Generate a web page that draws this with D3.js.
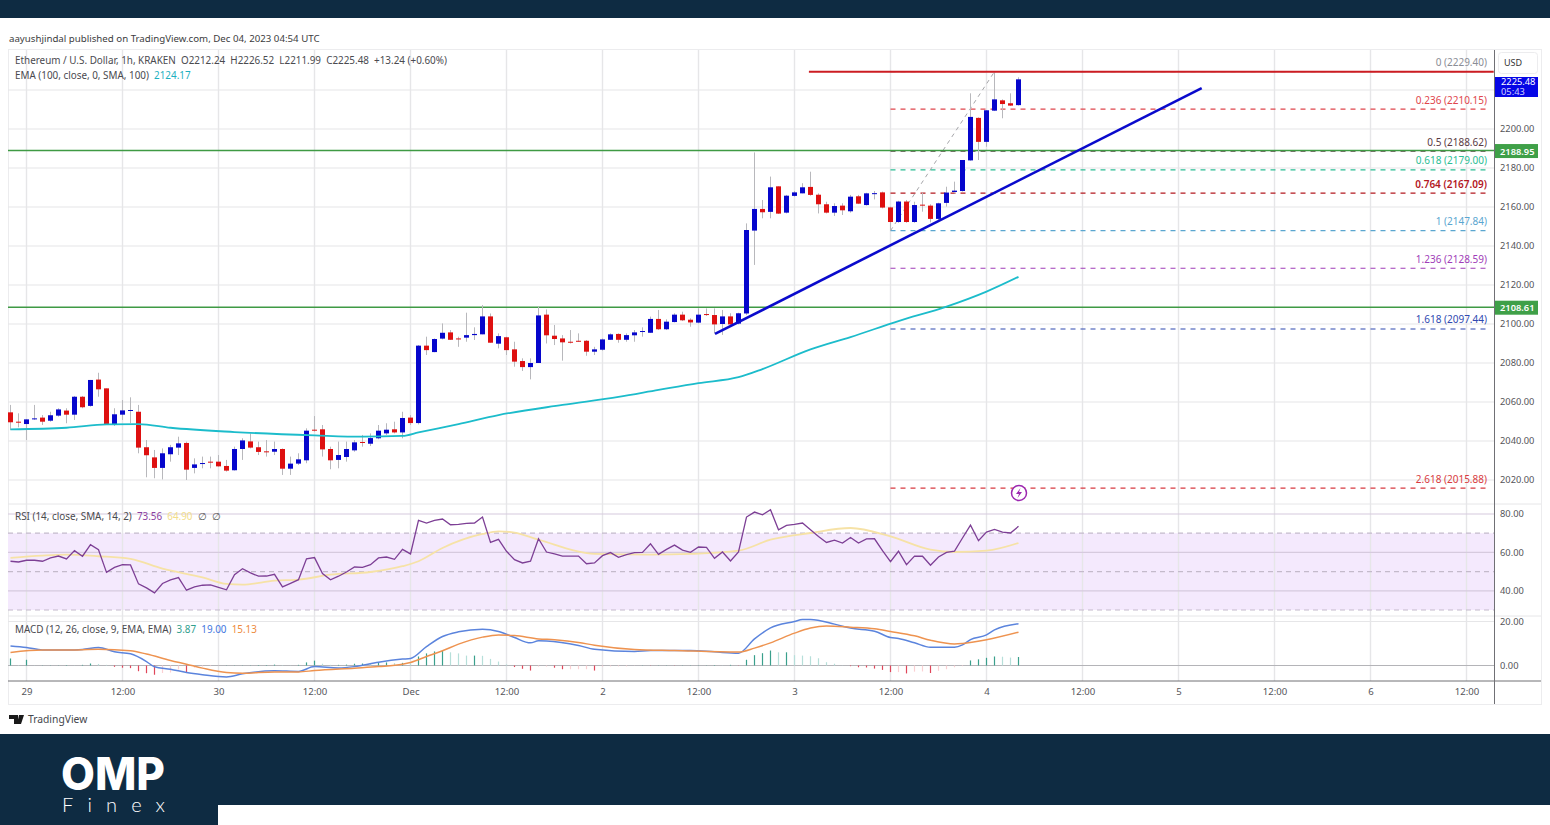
<!DOCTYPE html>
<html>
<head>
<meta charset="utf-8">
<script src="https://cdn.jsdelivr.net/npm/d3@7"></script>
<style>
  html, body { margin: 0; padding: 0; background: #fff; }
  svg { display: block; }
  text { font-family: "Noto Sans", "Open Sans", sans-serif; }
</style>
</head>
<body>
<div id="chart-container"></div>
<script>
// one candle per hour, first candle is hour -2 (Nov 28 22:00 UTC)
const candleOpen = [
  2054.7,2049.9,2048.7,2051.3,2052.0,2050.4,2053.0,2055.6,2053.5,2062.7,
  2058.0,2071.5,2067.0,2048.2,2053.5,2055.6,2055.0,2036.8,2031.6,2026.2,
  2033.2,2036.6,2039.0,2026.2,2028.4,2029.4,2029.4,2027.2,2025.0,2035.9,
  2039.8,2036.8,2034.7,2034.5,2035.9,2025.8,2028.4,2030.1,2045.8,2046.0,
  2035.9,2030.3,2031.8,2035.2,2039.5,2038.6,2041.4,2043.9,2046.0,2044.4,
  2052.0,2049.2,2088.9,2085.6,2092.5,2095.7,2092.6,2093.0,2094.3,2094.7,
  2103.9,2089.9,2093.2,2087.0,2081.0,2077.9,2080.0,2104.8,2094.0,2092.6,
  2090.9,2091.4,2091.4,2085.8,2086.8,2091.9,2094.9,2091.9,2094.2,2096.1,
  2095.5,2102.6,2097.3,2101.0,2104.8,2102.2,2100.7,2105.1,2104.6,2100.0,
  2103.9,2100.2,2105.4,2147.9,2159.0,2157.5,2170.6,2157.1,2165.7,2167.0,
  2170.3,2166.3,2161.4,2157.1,2160.7,2157.8,2165.5,2161.0,2167.0,2167.5,
  2159.8,2152.3,2162.8,2152.3,2161.2,2160.7,2153.9,2162.1,2167.7,2168.2,
  2183.9,2205.7,2193.4,2209.4,2214.7,2213.2,2212.24];
const candleClose = [
  2049.6,2049.7,2051.1,2051.6,2049.9,2053.2,2056.2,2053.5,2062.7,2057.3,
  2071.3,2066.5,2048.2,2053.7,2055.7,2055.9,2036.6,2032.7,2026.2,2033.7,
  2036.8,2038.8,2025.3,2028.0,2028.7,2029.1,2027.0,2024.8,2035.9,2040.3,
  2036.6,2034.4,2034.4,2035.9,2025.8,2028.4,2030.6,2045.3,2045.3,2035.7,
  2030.1,2032.8,2035.9,2039.3,2039.1,2041.5,2045.3,2045.8,2044.4,2051.8,
  2049.2,2088.9,2086.6,2092.3,2095.5,2091.9,2092.3,2094.3,2094.9,2103.9,
  2090.4,2093.8,2086.6,2080.7,2077.9,2080.0,2104.4,2094.2,2092.3,2090.6,
  2090.6,2091.1,2085.8,2087.0,2092.1,2094.7,2091.9,2094.3,2095.7,2096.4,
  2102.6,2097.3,2101.2,2104.8,2101.9,2100.8,2104.8,2104.6,2099.8,2103.9,
  2099.8,2105.5,2148.2,2159.0,2157.3,2170.1,2156.6,2165.8,2167.5,2170.1,
  2166.2,2161.4,2157.1,2160.5,2158.3,2165.3,2161.7,2167.0,2167.1,2159.7,
  2152.3,2162.8,2152.3,2161.0,2160.8,2153.9,2161.9,2167.4,2168.4,2184.1,
  2206.2,2193.4,2209.6,2215.2,2212.8,2212.0,2225.48];
const candleHigh = [
  2058.5,2054.2,2051.1,2058.5,2053.3,2055.0,2056.8,2056.8,2063.1,2063.1,
  2071.3,2075.0,2067.0,2056.8,2061.0,2062.4,2058.5,2040.5,2035.4,2036.2,
  2038.0,2042.2,2039.7,2031.1,2032.0,2032.0,2032.8,2030.3,2037.1,2041.4,
  2043.9,2039.7,2040.5,2039.7,2036.2,2032.0,2033.7,2046.5,2052.8,2048.2,
  2037.1,2039.7,2039.7,2040.5,2043.1,2043.9,2048.2,2049.1,2049.9,2055.0,
  2053.3,2089.2,2093.5,2092.6,2100.3,2096.9,2093.5,2105.8,2098.3,2109.7,
  2105.4,2095.2,2093.5,2090.9,2082.4,2082.4,2108.9,2107.5,2099.5,2094.3,
  2096.9,2095.2,2091.8,2088.3,2092.6,2095.2,2095.2,2095.2,2096.9,2098.3,
  2103.8,2107.2,2102.4,2105.5,2106.3,2102.9,2108.0,2108.0,2108.0,2107.2,
  2105.5,2105.8,2151.6,2188.0,2163.6,2175.6,2170.6,2166.2,2168.2,2172.2,
  2178.1,2167.0,2162.7,2161.9,2161.9,2166.2,2166.2,2167.3,2168.2,2167.9,
  2160.2,2163.2,2163.6,2162.7,2167.3,2161.4,2162.2,2170.4,2173.0,2184.1,
  2218.3,2206.0,2209.7,2228.9,2215.2,2218.3,2226.52];
const candleLow = [
  2045.6,2047.0,2040.5,2050.8,2048.2,2049.9,2052.5,2049.1,2050.8,2056.8,
  2057.6,2062.7,2048.2,2047.7,2050.8,2049.1,2033.7,2021.4,2020.9,2020.3,
  2029.4,2032.8,2020.0,2023.4,2026.0,2026.0,2026.8,2024.3,2024.8,2030.3,
  2036.2,2032.8,2032.0,2032.8,2022.6,2022.6,2027.7,2028.6,2044.8,2032.0,
  2025.5,2026.0,2029.4,2034.5,2037.1,2037.4,2040.9,2043.1,2043.9,2041.4,
  2048.2,2048.5,2084.1,2085.5,2092.1,2091.8,2088.3,2090.9,2091.8,2094.7,
  2090.4,2087.5,2084.1,2078.1,2075.9,2071.6,2080.0,2090.0,2089.2,2081.2,
  2090.0,2090.9,2083.7,2084.1,2086.3,2091.8,2090.4,2090.9,2090.9,2093.5,
  2095.4,2096.9,2096.9,2100.8,2101.5,2098.6,2100.3,2104.1,2095.2,2094.4,
  2099.5,2099.8,2104.6,2130.3,2154.2,2154.2,2156.4,2156.7,2165.3,2167.0,
  2165.8,2156.7,2156.7,2155.4,2155.9,2157.1,2161.5,2160.7,2163.9,2159.3,
  2148.2,2151.9,2151.9,2151.9,2157.6,2152.1,2153.3,2160.2,2167.0,2167.9,
  2183.7,2184.1,2190.9,2209.2,2205.5,2211.8,2211.99];

const rsiValues = [
  55.4,55.0,55.9,55.9,55.4,57.1,58.1,56.6,60.9,58.0,
  64.0,61.4,49.6,52.2,53.6,53.5,43.6,41.5,38.9,43.8,
  45.7,46.9,40.3,42.0,42.9,43.1,41.8,40.5,48.4,51.5,
  49.3,47.6,47.7,48.6,42.0,43.9,45.8,56.7,57.3,49.0,
  45.7,47.6,49.8,52.4,52.2,53.6,57.1,57.6,56.4,61.6,
  59.2,76.7,75.3,76.7,77.4,74.4,74.6,75.1,75.3,78.4,
  65.2,66.8,60.6,56.2,54.5,55.4,67.1,60.2,59.2,58.1,
  58.1,58.1,54.1,54.5,58.3,59.9,57.4,58.8,59.9,60.0,
  64.5,59.0,61.6,63.8,61.2,60.0,62.8,62.6,56.9,60.2,
  55.5,60.2,78.4,81.0,79.6,82.2,71.8,74.1,74.6,75.3,
  71.8,68.3,65.2,66.4,64.9,67.8,64.9,67.0,67.1,60.9,
  55.2,60.6,53.6,58.1,58.0,53.3,57.6,60.0,60.7,67.5,
  74.2,66.1,70.6,72.0,70.6,70.1,73.56];

const rsiMaHours = [-2,2,5,9,13,17,22,25,27,31,34,38,43,47,49,52,57,59,61,64,71,78,83,89,93,98,103,108,113,116,120,124];
const rsiMaValues = [57.1,58.3,58.8,58.0,56.6,51.5,47.0,43.6,43.2,45.3,45.8,48.4,49.8,52.8,55.4,62.3,69.6,71.0,70.3,66.6,59.2,58.8,59.2,60.9,66.6,70.1,72.7,68.3,61.4,60.2,60.9,64.9];

const macdHours = [-2,0,2,5,7,9,11,13,15,16,18,20,22,25,27,31,34,36,39,41,44,47,48,50,52,54,57,59,61,63,64,65,69,71,76,78,83,86,89,91,93,96,97,98,101,103,106,108,109,111,113,116,117,118,120,121,124];
const macdValues = [8.9,8.2,7.1,7.0,7.3,8.2,6.2,5.3,1.8,-0.6,-1.7,-3.2,-4.2,-5.2,-3.8,-2.4,-2.7,-0.5,-1.1,-0.5,1.5,2.9,3.2,8.6,13.2,15.3,16.5,15.5,12.7,10.3,11.2,11.1,9.1,7.4,6.4,6.8,6.8,6.2,5.6,12.1,17.1,20.0,20.9,20.9,18.8,17.0,15.6,12.7,12.3,10.3,8.3,8.3,9.4,11.8,13.9,16.2,19.0];
const signalHours = [-2,2,5,9,13,15,18,20,22,25,27,31,34,36,41,44,47,48,50,52,54,57,59,61,64,66,69,71,76,81,89,91,93,96,98,100,103,106,108,111,113,116,117,120,124];
const signalValues = [5.9,7.0,7.0,7.4,6.7,5.2,2.3,0.6,-1.2,-3.2,-3.5,-2.9,-2.9,-2.3,-1.2,-0.5,0.6,1.4,4.1,6.7,9.7,12.9,13.9,13.6,12.1,11.7,10.5,9.2,7.3,6.8,6.1,7.9,10.3,14.7,17.0,17.9,17.4,16.7,15.5,13.5,11.5,9.8,10.0,11.7,15.13];
const histValues = [
  3.2,0.2,2.6,0.1,0.1,0.1,0.1,0.2,0.1,0.3,
  0.9,0.7,0.3,-0.6,-1.0,-1.2,-2.6,-3.5,-4.2,-3.4,
  -3.2,-1.8,-3.2,-1.0,-0.5,-0.3,-0.1,0.1,0.1,0.1,
  0.1,0.2,0.2,0.4,0.2,0.1,0.3,1.4,2.2,0.8,
  0.3,0.3,0.4,0.8,0.9,0.8,1.2,1.4,1.1,1.2,
  1.0,4.1,5.5,6.4,6.8,6.0,5.5,4.5,4.5,4.4,
  3.0,1.8,0.5,-0.7,-1.5,-2.3,-0.5,-0.5,-1.0,-1.7,
  -1.7,-1.7,-1.7,-2.3,-0.5,-0.4,-0.4,-0.4,-0.1,0.1,
  -0.1,0.1,0.1,-0.1,0.1,0.1,0.1,0.1,0.2,0.1,
  0.3,-0.1,2.6,4.7,5.6,6.8,6.0,6.0,4.7,4.5,
  4.2,3.3,1.5,0.8,0.1,-0.3,-0.8,-0.9,-1.4,-2.0,
  -3.0,-3.0,-3.6,-2.8,-2.7,-3.4,-2.4,-1.7,-0.8,-0.3,
  2.3,2.8,3.5,4.1,4.0,3.6,3.87];

const emaHours = [-2,5,10,14,18,26,36,42,47,49,54,59,67,74,79,84,89,92,98,103,109,115,120,124];
const emaValues = [2046.0,2046.8,2048.5,2048.7,2046.8,2044.6,2042.9,2042.2,2042.6,2044.4,2048.7,2053.3,2058.5,2062.6,2066.2,2069.7,2072.7,2076.9,2087.0,2093.3,2101.5,2108.9,2116.6,2124.17];

const priceTicks = [2020,2040,2060,2080,2100,2120,2140,2160,2180,2200];
const priceGrid = [2020,2040,2060,2080,2100,2120,2140,2160,2180,2200,2220];
const rsiTicks = [40,60,80];
const rsiDashes = [30,50,70];
const macdTicks = [0,20];

const fibLevels = ["0","0.236","0.5","0.618","0.764","1","1.236","1.618","2.618"];
const fibPrices = [2229.40,2210.15,2188.62,2179.00,2167.09,2147.84,2128.59,2097.44,2015.88];
const fibColors = ["#8a8d96","#e0454c","#5a3a44","#2cbd94","#b3181f","#5aa6d0","#a03cb8","#2f49b0","#d83a40"];

const srLevels = [2188.95,2108.61];
const trendHours = [86.06,146.9];
const trendPrices = [2094.9,2221];
const resistHours = [97.8,183.4];
const resistPrices = [2229.4,2229.4];
const swingHours = [108,121];
const swingPrices = [2147.84,2229.4];

const navy = "#0e2b42";
const gridColor = "#e6e6e8";
const textColor = "#55555a";
const t0 = Date.UTC(2023, 10, 29);
const hourDate = h => new Date(t0 + h * 3600000);

const svg = d3.select("#chart-container").append("svg")
  .attr("width", 1550).attr("height", 825);

const x = d3.scaleUtc()
  .domain([hourDate(-2.3125), hourDate(183.4375)])
  .range([8, 1494]);
const yPrice = d3.scaleLinear().domain([2000, 2240]).range([519, 51]);
const yRsi = d3.scaleLinear().domain([30, 80]).range([610, 514]);
const yMacd = d3.scaleLinear().domain([0, 20]).range([665.5, 621.5]);
const hx = h => x(hourDate(h));

// page frame
svg.append("rect").attr("width", 1550).attr("height", 18).attr("fill", navy);
svg.append("rect").attr("y", 734).attr("width", 1550).attr("height", 91).attr("fill", navy);
svg.append("rect").attr("x", 218).attr("y", 805).attr("width", 1332).attr("height", 20).attr("fill", "#fff");
svg.append("rect").attr("x", 8.5).attr("y", 49.5).attr("width", 1533).attr("height", 655)
  .attr("fill", "none").attr("stroke", "#ececee");

svg.append("text").attr("x", 9).attr("y", 42).attr("font-size", 9.7).attr("fill", "#3c3c40")
  .text("aayushjindal published on TradingView.com, Dec 04, 2023 04:54 UTC");

// rsi band goes under the grid
svg.append("rect").attr("x", 8).attr("y", yRsi(70)).attr("width", 1486).attr("height", yRsi(30) - yRsi(70))
  .attr("fill", "#f4e9fd");

const timeTicks = d3.range(0, 183, 12).map(hourDate);
svg.append("g").selectAll("line").data(timeTicks).enter().append("line")
  .attr("x1", d => x(d)).attr("x2", d => x(d)).attr("y1", 50).attr("y2", 681)
  .attr("stroke", gridColor).attr("stroke-width", 1.4);

const hGrid = (values, scale, color) => svg.append("g").selectAll("line").data(values).enter().append("line")
  .attr("x1", 8).attr("x2", 1494).attr("y1", d => scale(d)).attr("y2", d => scale(d))
  .attr("stroke", color).attr("stroke-width", 1.2);
hGrid(priceGrid, yPrice, gridColor);
hGrid(rsiTicks, yRsi, "#d6cade");
hGrid(macdTicks, yMacd, gridColor);
svg.append("line").attr("x1", 8).attr("x2", 1494).attr("y1", yMacd(0)).attr("y2", yMacd(0))
  .attr("stroke", "#b4b4b8").attr("stroke-width", 1);

svg.append("g").selectAll("line").data(rsiDashes).enter().append("line")
  .attr("x1", 8).attr("x2", 1494).attr("y1", d => yRsi(d)).attr("y2", d => yRsi(d))
  .attr("stroke", "#c4bacb").attr("stroke-width", 1.2).attr("stroke-dasharray", "5 4");

// pane separators, they run on across the price axis
[504, 616].forEach(v => svg.append("line").attr("x1", 8).attr("x2", 1541).attr("y1", v).attr("y2", v)
  .attr("stroke", "#e6e6e8"));

// fib levels
const fibData = fibLevels.map((l, i) => ({ level: l, price: fibPrices[i], color: fibColors[i] }));
svg.append("g").selectAll("line").data(fibData).enter().append("line")
  .attr("x1", hx(108)).attr("x2", 1489)
  .attr("y1", d => yPrice(d.price)).attr("y2", d => yPrice(d.price))
  .attr("stroke", d => d.color).attr("stroke-width", 1.2).attr("stroke-dasharray", "5 5");
svg.append("g").selectAll("text").data(fibData).enter().append("text")
  .attr("x", 1487).attr("y", d => yPrice(d.price) - 5.5)
  .attr("text-anchor", "end").attr("font-size", 10)
  .attr("font-weight", d => d.level === "0.764" ? 600 : 400)
  .attr("fill", d => d.color)
  .text(d => d.level + " (" + d.price.toFixed(2) + ")");

const priceLine = d3.line().x(d => hx(d[0])).y(d => yPrice(d[1]));

svg.append("path").datum(d3.zip(swingHours, swingPrices)).attr("d", priceLine)
  .attr("fill", "none").attr("stroke", "#a6a6aa").attr("stroke-width", 1).attr("stroke-dasharray", "4 4");

// support and resistance lines
svg.append("g").selectAll("line").data(srLevels).enter().append("line")
  .attr("x1", 8).attr("x2", 1494).attr("y1", d => yPrice(d)).attr("y2", d => yPrice(d))
  .attr("stroke", "#3f9a44").attr("stroke-width", 1.6);

// candles
const candles = candleOpen.map((o, i) => ({
  hour: i - 2, open: o, close: candleClose[i], high: candleHigh[i], low: candleLow[i]
}));
svg.append("g").selectAll("line").data(candles).enter().append("line")
  .attr("x1", d => hx(d.hour)).attr("x2", d => hx(d.hour))
  .attr("y1", d => yPrice(d.high)).attr("y2", d => yPrice(d.low))
  .attr("stroke", "#b8b8bc").attr("stroke-width", 1);
svg.append("g").selectAll("rect").data(candles).enter().append("rect")
  .attr("x", d => hx(d.hour) - 2.5).attr("width", 5)
  .attr("y", d => yPrice(Math.max(d.open, d.close)))
  .attr("height", d => Math.max(1, Math.abs(yPrice(d.open) - yPrice(d.close))))
  .attr("fill", d => d.close >= d.open ? "#0606cc" : "#de1010");

svg.append("path").datum(d3.zip(emaHours, emaValues)).attr("d", priceLine.curve(d3.curveMonotoneX))
  .attr("fill", "none").attr("stroke", "#1cbccb").attr("stroke-width", 1.8);
priceLine.curve(d3.curveLinear);

svg.append("path").datum(d3.zip(trendHours, trendPrices)).attr("d", priceLine)
  .attr("fill", "none").attr("stroke", "#0a0acc").attr("stroke-width", 2.6);
svg.append("path").datum(d3.zip(resistHours, resistPrices)).attr("d", priceLine)
  .attr("fill", "none").attr("stroke", "#cc1c22").attr("stroke-width", 2);

// lightning marker
const bolt = svg.append("g").attr("transform", "translate(1019,493)");
bolt.append("circle").attr("r", 7.5).attr("fill", "#fff").attr("stroke", "#9c27b0").attr("stroke-width", 1.5);
bolt.append("path").attr("d", "M1.5,-5L-3,1H0L-1.5,5L3,-1H0Z").attr("fill", "#9c27b0");

// rsi pane
const rsiLine = d3.line().x((d, i) => hx(i - 2)).y(d => yRsi(d));
const rsiMaLine = d3.line().curve(d3.curveMonotoneX).x(d => hx(d[0])).y(d => yRsi(d[1]));
svg.append("path").datum(d3.zip(rsiMaHours, rsiMaValues)).attr("d", rsiMaLine)
  .attr("fill", "none").attr("stroke", "#f6e2a6").attr("stroke-width", 1.8);
svg.append("path").datum(rsiValues).attr("d", rsiLine)
  .attr("fill", "none").attr("stroke", "#7d3f95").attr("stroke-width", 1.3);

// macd pane
const histColor = (d, i) => {
  const rising = i === 0 || d >= histValues[i - 1];
  if (d >= 0) return rising ? "#3aa08c" : "#b6dfd9";
  return rising ? "#fbd0d3" : "#e0465a";
};
svg.append("g").selectAll("line").data(histValues).enter().append("line")
  .attr("x1", (d, i) => hx(i - 2)).attr("x2", (d, i) => hx(i - 2))
  .attr("y1", yMacd(0)).attr("y2", d => yMacd(d))
  .attr("stroke", histColor).attr("stroke-width", 1.2);
const macdPath = d3.line().curve(d3.curveMonotoneX).x(d => hx(d[0])).y(d => yMacd(d[1]));
svg.append("path").datum(d3.zip(macdHours, macdValues)).attr("d", macdPath)
  .attr("fill", "none").attr("stroke", "#5b84dd").attr("stroke-width", 1.5);
svg.append("path").datum(d3.zip(signalHours, signalValues)).attr("d", macdPath)
  .attr("fill", "none").attr("stroke", "#ee9350").attr("stroke-width", 1.5);

// axes
const tickFormat = d => {
  if (d.getUTCHours() === 12) return "12:00";
  return d.getUTCMonth() === 11 && d.getUTCDate() === 1 ? "Dec" : String(d.getUTCDate());
};
const xAxis = svg.append("g").attr("transform", "translate(0,681)")
  .call(d3.axisBottom(x).tickValues(timeTicks).tickSize(0).tickPadding(7).tickFormat(tickFormat));
xAxis.select(".domain").remove();
xAxis.selectAll("text").attr("font-size", 9.6).attr("font-family", null).attr("fill", textColor);

const rightAxis = (scale, values, fmt) => {
  const g = svg.append("g").attr("transform", "translate(1494,0)")
    .call(d3.axisRight(scale).tickValues(values).tickSize(0).tickPadding(6).tickFormat(fmt));
  g.select(".domain").remove();
  g.selectAll("text").attr("font-size", 9.3).attr("font-family", null).attr("fill", textColor);
};
rightAxis(yPrice, priceTicks, d3.format(".2f"));
rightAxis(yRsi, rsiTicks, d3.format(".2f"));
rightAxis(yMacd, macdTicks, d3.format(".2f"));

svg.append("line").attr("x1", 1494.5).attr("x2", 1494.5).attr("y1", 50).attr("y2", 704).attr("stroke", "#707075");
svg.append("line").attr("x1", 8).attr("x2", 1541).attr("y1", 681).attr("y2", 681).attr("stroke", "#707075");

// price labels on the axis
svg.append("rect").attr("x", 1498.5).attr("y", 52.5).attr("width", 39).attr("height", 21).attr("rx", 3)
  .attr("fill", "#fff").attr("stroke", "#ececee");
svg.append("text").attr("x", 1513).attr("y", 66).attr("text-anchor", "middle").attr("font-size", 9)
  .attr("fill", "#333").text("USD");
svg.append("rect").attr("x", 1495).attr("y", 77).attr("width", 43).attr("height", 20).attr("fill", "#0606e6");
svg.append("text").attr("x", 1501).attr("y", 84.5).attr("font-size", 9.3).attr("fill", "#fff").text("2225.48");
svg.append("text").attr("x", 1501).attr("y", 94.5).attr("font-size", 9.3).attr("fill", "#cfd0ff").text("05:43");
svg.append("g").selectAll("rect").data(srLevels).enter().append("rect")
  .attr("x", 1495).attr("y", d => yPrice(d) - 6.5).attr("width", 43).attr("height", 14)
  .attr("fill", "#3fa048");
svg.append("g").selectAll("text").data(srLevels).enter().append("text")
  .attr("x", 1500).attr("y", d => yPrice(d) + 4).attr("font-size", 9.3).attr("font-weight", 600)
  .attr("fill", "#fff").text(d => d.toFixed(2));

// legends
const legend = (px, py, parts) => {
  const t = svg.append("text").attr("x", px).attr("y", py).attr("font-size", 9.9).attr("xml:space", "preserve");
  parts.forEach(p => t.append("tspan").attr("fill", p[1]).text(p[0]));
};
legend(15, 64, [["Ethereum / U.S. Dollar, 1h, KRAKEN  O2212.24  H2226.52  L2211.99  C2225.48  +13.24 (+0.60%)", "#4a4a4f"]]);
legend(15, 79, [["EMA (100, close, 0, SMA, 100)  ", "#4a4a4f"], ["2124.17", "#1cb0c0"]]);
legend(15, 520, [["RSI (14, close, SMA, 14, 2)  ", "#4a4a4f"], ["73.56  ", "#8a3fa0"], ["64.90  ", "#f2dd8c"], ["∅  ∅", "#555"]]);
legend(15, 633, [["MACD (12, 26, close, 9, EMA, EMA)  ", "#4a4a4f"], ["3.87  ", "#2f9e8c"], ["19.00  ", "#3f78e0"], ["15.13", "#ee8a3c"]]);

// tradingview mark
svg.append("path").attr("d", "M9,715H18V724H14V719H9ZM19,715H24L21,724H17Z").attr("fill", "#1a1a1a");
svg.append("text").attr("x", 28).attr("y", 723).attr("font-size", 10.3).attr("fill", "#44464c").text("TradingView");

// logo
svg.append("text").attr("x", 61).attr("y", 790).attr("font-size", 45).attr("font-weight", 800)
  .style("font-family", "Inter, Lato, sans-serif").attr("fill", "#fff").attr("textLength", 104).attr("lengthAdjust", "spacingAndGlyphs").text("OMP");
svg.append("text").attr("x", 62).attr("y", 812).attr("font-size", 20).attr("font-weight", 300)
  .style("font-family", "Lato, sans-serif").attr("fill", "#fff").attr("textLength", 103).text("Finex");
</script>
</body>
</html>
